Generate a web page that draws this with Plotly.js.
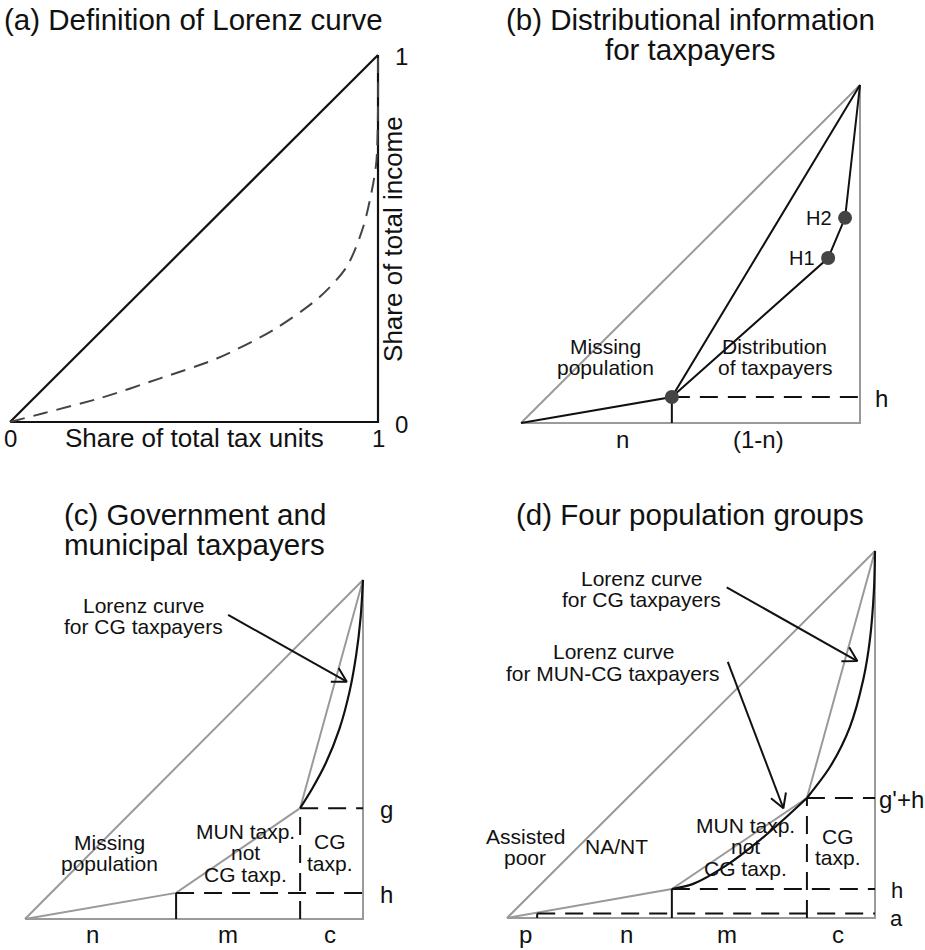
<!DOCTYPE html>
<html>
<head>
<meta charset="utf-8">
<script src="https://cdn.plot.ly/plotly-3.0.1.min.js"></script>
<style>body{margin:0;background:#fff}#chart{width:925px;height:950px}</style>
</head>
<body>
<div id="chart"></div>
<script>
// ---------- Panel (a): definition of Lorenz curve ----------
const aEqualX = [0, 1];
const aEqualY = [0, 1];
const aFrameX = [0, 1, 1];
const aFrameY = [0, 0, 1];
const aLorenzX = [0, 0.091, 0.245, 0.408, 0.562, 0.716, 0.842, 0.915, 0.960, 0.987, 0.996, 1, 1];
const aLorenzY = [0, 0.024, 0.065, 0.119, 0.173, 0.251, 0.341, 0.423, 0.532, 0.650, 0.714, 0.85, 1];

// ---------- Panel (b): distributional information ----------
const bTriX = [0, 1, 1, 0];
const bTriY = [0, 1, 0, 0];
const bN = 0.445;          // share of missing population
const bH = 0.077;          // income share of missing population
const bHx = [0.906, 0.956]; // H1, H2 shares of units
const bHy = [0.488, 0.607]; // H1, H2 shares of income
const bHLabels = ['H1', 'H2'];

// ---------- Panel (c): government and municipal taxpayers ----------
const cTriX = [0, 1, 1, 0];
const cTriY = [0, 1, 0, 0];
const cN = 0.447, cM = 0.814; // cumulative population boundaries
const cH = 0.077, cG = 0.327; // cumulative income levels
const cCGx = [0.814, 0.85, 0.89, 0.93, 0.96, 0.98, 0.993, 1];
const cCGy = [0.327, 0.385, 0.46, 0.56, 0.67, 0.78, 0.89, 1];
const cArrowTail = [0.601, 0.897];
const cArrowHead = [0.952, 0.700];

// ---------- Panel (d): four population groups ----------
const dTriX = [0, 1, 1, 0];
const dTriY = [0, 1, 0, 0];
const dP = 0.082, dN = 0.448, dM = 0.815; // population boundaries
const dA = 0.012, dH = 0.079, dG = 0.327; // income levels
const dMunX = [0.448, 0.506, 0.597, 0.688, 0.760, 0.815];
const dMunY = [0.079, 0.093, 0.144, 0.213, 0.276, 0.327];
const dCGx = [0.815, 0.878, 0.932, 0.968, 0.986, 0.997, 1];
const dCGy = [0.327, 0.412, 0.521, 0.649, 0.757, 0.891, 1];
const dArrow1Tail = [0.597, 0.901], dArrow1Head = [0.952, 0.700];
const dArrow2Tail = [0.600, 0.698], dArrow2Head = [0.751, 0.299];

// ---------- panel geometry (pixel origin and px per unit) ----------
const W = 925, Hh = 950;
const panels = [
  {ox: 10,  oy: 422, sx: 368, sy: 367, xr: [-0.027, 1.12], yr: [-0.08, 1.02]},
  {ox: 521, oy: 423, sx: 339, sy: 338, xr: [-0.05, 1.12],  yr: [-0.10, 1.03]},
  {ox: 25,  oy: 919, sx: 338, sy: 339, xr: [-0.07, 1.12],  yr: [-0.09, 1.03]},
  {ox: 507, oy: 918, sx: 368, sy: 367, xr: [-0.05, 1.13],  yr: [-0.085, 1.03]}
];

const BLACK = '#111111', GRAY = '#9a9a9a', DOT = '#444444';
const FONT = 'Liberation Sans, Arial, sans-serif';
const ax = ['x', 'x2', 'x3', 'x4'], ay = ['y', 'y2', 'y3', 'y4'];

const traces = [];
function line(p, xs, ys, color, width, dash, shape) {
  traces.push({
    type: 'scatter', mode: 'lines', x: xs, y: ys, xaxis: ax[p], yaxis: ay[p],
    line: {color: color, width: width || 2, dash: dash || 'solid', shape: shape || 'linear', smoothing: 0.8},
    hoverinfo: 'skip', showlegend: false
  });
}
function arrow(p, tail, head) {
  const g = panels[p];
  const ang = Math.atan2((head[1] - tail[1]) * g.sy, (head[0] - tail[0]) * g.sx) + Math.PI;
  const L = 16, spread = Math.PI / 6;
  const a1 = [head[0] + L * Math.cos(ang + spread) / g.sx, head[1] + L * Math.sin(ang + spread) / g.sy];
  const a2 = [head[0] + L * Math.cos(ang - spread) / g.sx, head[1] + L * Math.sin(ang - spread) / g.sy];
  line(p, [tail[0], head[0], null, a1[0], head[0], a2[0]],
          [tail[1], head[1], null, a1[1], head[1], a2[1]], BLACK, 2);
}

// (a)
line(0, aEqualX, aEqualY, BLACK, 2.2);
line(0, aFrameX, aFrameY, BLACK, 2.2);
line(0, aLorenzX, aLorenzY, DOT, 2, '15px,9px', 'spline');

// (b)
line(1, bTriX, bTriY, GRAY, 2);
line(1, [0, bN, 1], [0, bH, 1], BLACK, 2);
line(1, [bN].concat(bHx, [1]), [bH].concat(bHy, [1]), BLACK, 2);
line(1, [bN, bN], [0, bH], BLACK, 2);
line(1, [bN, 1], [bH, bH], BLACK, 2, '18px,10px');
traces.push({type: 'scatter', mode: 'markers', x: [bN].concat(bHx), y: [bH].concat(bHy),
  xaxis: 'x2', yaxis: 'y2', marker: {size: 14, color: DOT}, hoverinfo: 'skip', showlegend: false});

// (c)
line(2, cTriX, cTriY, GRAY, 2);
line(2, [0, cN, cM, 1], [0, cH, cG, 1], GRAY, 2);
line(2, cCGx, cCGy, BLACK, 2.2, 'solid', 'spline');
line(2, [cM, 1], [cG, cG], BLACK, 2, '18px,10px');
line(2, [cN, 1], [cH, cH], BLACK, 2, '18px,10px');
line(2, [cM, cM], [0, cG], BLACK, 2, '18px,10px');
line(2, [cN, cN], [0, cH], BLACK, 2);
arrow(2, cArrowTail, cArrowHead);

// (d)
line(3, dTriX, dTriY, GRAY, 2);
line(3, [0, dN, dM, 1], [0, dH, dG, 1], GRAY, 2);
line(3, dMunX, dMunY, BLACK, 2.2, 'solid', 'spline');
line(3, dCGx, dCGy, BLACK, 2.2, 'solid', 'spline');
line(3, [dM, 1], [dG, dG], BLACK, 2, '18px,10px');
line(3, [dN, 1], [dH, dH], BLACK, 2, '18px,10px');
line(3, [dP, 1], [dA, dA], BLACK, 2, '18px,10px');
line(3, [dM, dM], [0, dG], BLACK, 2, '18px,10px');
line(3, [dN, dN], [0, dH], BLACK, 2);
line(3, [dP, dP], [0, dA], BLACK, 2);
arrow(3, dArrow1Tail, dArrow1Head);
arrow(3, dArrow2Tail, dArrow2Head);

// ---------- text ----------
const ann = [];
function label(p, x, y, lines, size, gap, opt) {
  opt = opt || {};
  lines.forEach((t, i) => {
    ann.push(Object.assign({
      xref: ax[p], yref: ay[p], x: x, y: y, text: t, showarrow: false,
      xanchor: 'center', yanchor: 'middle',
      yshift: ((lines.length - 1) / 2 - i) * gap,
      font: {family: FONT, size: size, color: BLACK}
    }, opt));
  });
}
function ptitle(px, py, lines, anchor, gap) {
  lines.forEach((t, i) => {
    ann.push({xref: 'paper', yref: 'paper', x: px / W, y: 1 - (py + i * gap) / Hh, text: t,
      showarrow: false, xanchor: anchor, yanchor: 'middle',
      font: {family: FONT, size: 29.5, color: BLACK}});
  });
}

// titles
ptitle(2, 19, ['(a) Definition of Lorenz curve'], 'left', 0);
ptitle(690, 19, ['(b) Distributional information', 'for taxpayers'], 'center', 30);
ptitle(62, 514, ['(c) Government and', 'municipal taxpayers'], 'left', 30);
ptitle(690, 514, ['(d) Four population groups'], 'center', 0);

// (a) labels
label(0, 0, -0.044, ['0'], 24, 0);
label(0, 0.501, -0.044, ['Share of total tax units'], 26, 0);
label(0, 1, -0.044, ['1'], 24, 0);
label(0, 1.065, -0.008, ['0'], 24, 0);
label(0, 1.065, 0.995, ['1'], 24, 0);
label(0, 1.042, 0.50, ['Share of total income'], 26, 0, {textangle: -90});

// (b) labels
bHx.forEach((v, i) => label(1, v, bHy[i], [bHLabels[i]], 20, 0, {xanchor: 'right', xshift: -11}));
label(1, 0.25, 0.196, ['Missing', 'population'], 21, 21.5);
label(1, 0.749, 0.196, ['Distribution', 'of taxpayers'], 21, 21.5);
label(1, 1.064, 0.073, ['h'], 24, 0);
label(1, 0.299, -0.05, ['n'], 24, 0);
label(1, 0.70, -0.05, ['(1-n)'], 24, 0);

// (c) labels
label(2, 0.35, 0.894, ['Lorenz curve', 'for CG taxpayers'], 21, 21.5);
label(2, 0.251, 0.194, ['Missing', 'population'], 21, 21.5);
label(2, 0.651, 0.196, ['MUN taxp.', 'not', 'CG taxp.'], 21, 21.5);
label(2, 0.902, 0.196, ['CG', 'taxp.'], 21, 21.5);
label(2, 1.07, 0.322, ['g'], 24, 0);
label(2, 1.07, 0.072, ['h'], 24, 0);
label(2, 0.20, -0.045, ['n'], 24, 0);
label(2, 0.602, -0.045, ['m'], 24, 0);
label(2, 0.902, -0.045, ['c'], 24, 0);

// (d) labels
label(3, 0.366, 0.897, ['Lorenz curve', 'for CG taxpayers'], 21, 21.5);
label(3, 0.289, 0.696, ['Lorenz curve', 'for MUN-CG taxpayers'], 21, 21.5);
label(3, 0.049, 0.194, ['Assisted', 'poor'], 21, 21.5);
label(3, 0.298, 0.194, ['NA/NT'], 21, 0);
label(3, 0.647, 0.194, ['MUN taxp.', 'not', 'CG taxp.'], 21, 21.5);
label(3, 0.90, 0.194, ['CG', 'taxp.'], 21, 21.5);
label(3, 1.005, 0.322, ["g'+h"], 24, 0, {xanchor: 'left'});
label(3, 1.059, 0.076, ['h'], 22, 0, {borderpad: 0});
label(3, 1.059, 0.0, ['a'], 22, 0, {borderpad: 0});
label(3, 0.049, -0.046, ['p'], 24, 0);
label(3, 0.326, -0.046, ['n'], 24, 0);
label(3, 0.597, -0.046, ['m'], 24, 0);
label(3, 0.90, -0.046, ['c'], 24, 0);

// ---------- axes ----------
const layout = {
  width: W, height: Hh, margin: {l: 0, r: 0, t: 0, b: 0},
  paper_bgcolor: '#ffffff', plot_bgcolor: 'rgba(0,0,0,0)',
  showlegend: false, annotations: ann, font: {family: FONT}
};
panels.forEach((g, i) => {
  const sfx = i === 0 ? '' : String(i + 1);
  layout['xaxis' + sfx] = {
    range: g.xr, visible: false, fixedrange: true, anchor: 'y' + sfx,
    domain: [(g.ox + g.xr[0] * g.sx) / W, (g.ox + g.xr[1] * g.sx) / W]
  };
  layout['yaxis' + sfx] = {
    range: g.yr, visible: false, fixedrange: true, anchor: 'x' + sfx,
    domain: [1 - (g.oy - g.yr[0] * g.sy) / Hh, 1 - (g.oy - g.yr[1] * g.sy) / Hh]
  };
});

Plotly.newPlot('chart', traces, layout, {displayModeBar: false, staticPlot: true});
</script>
</body>
</html>
